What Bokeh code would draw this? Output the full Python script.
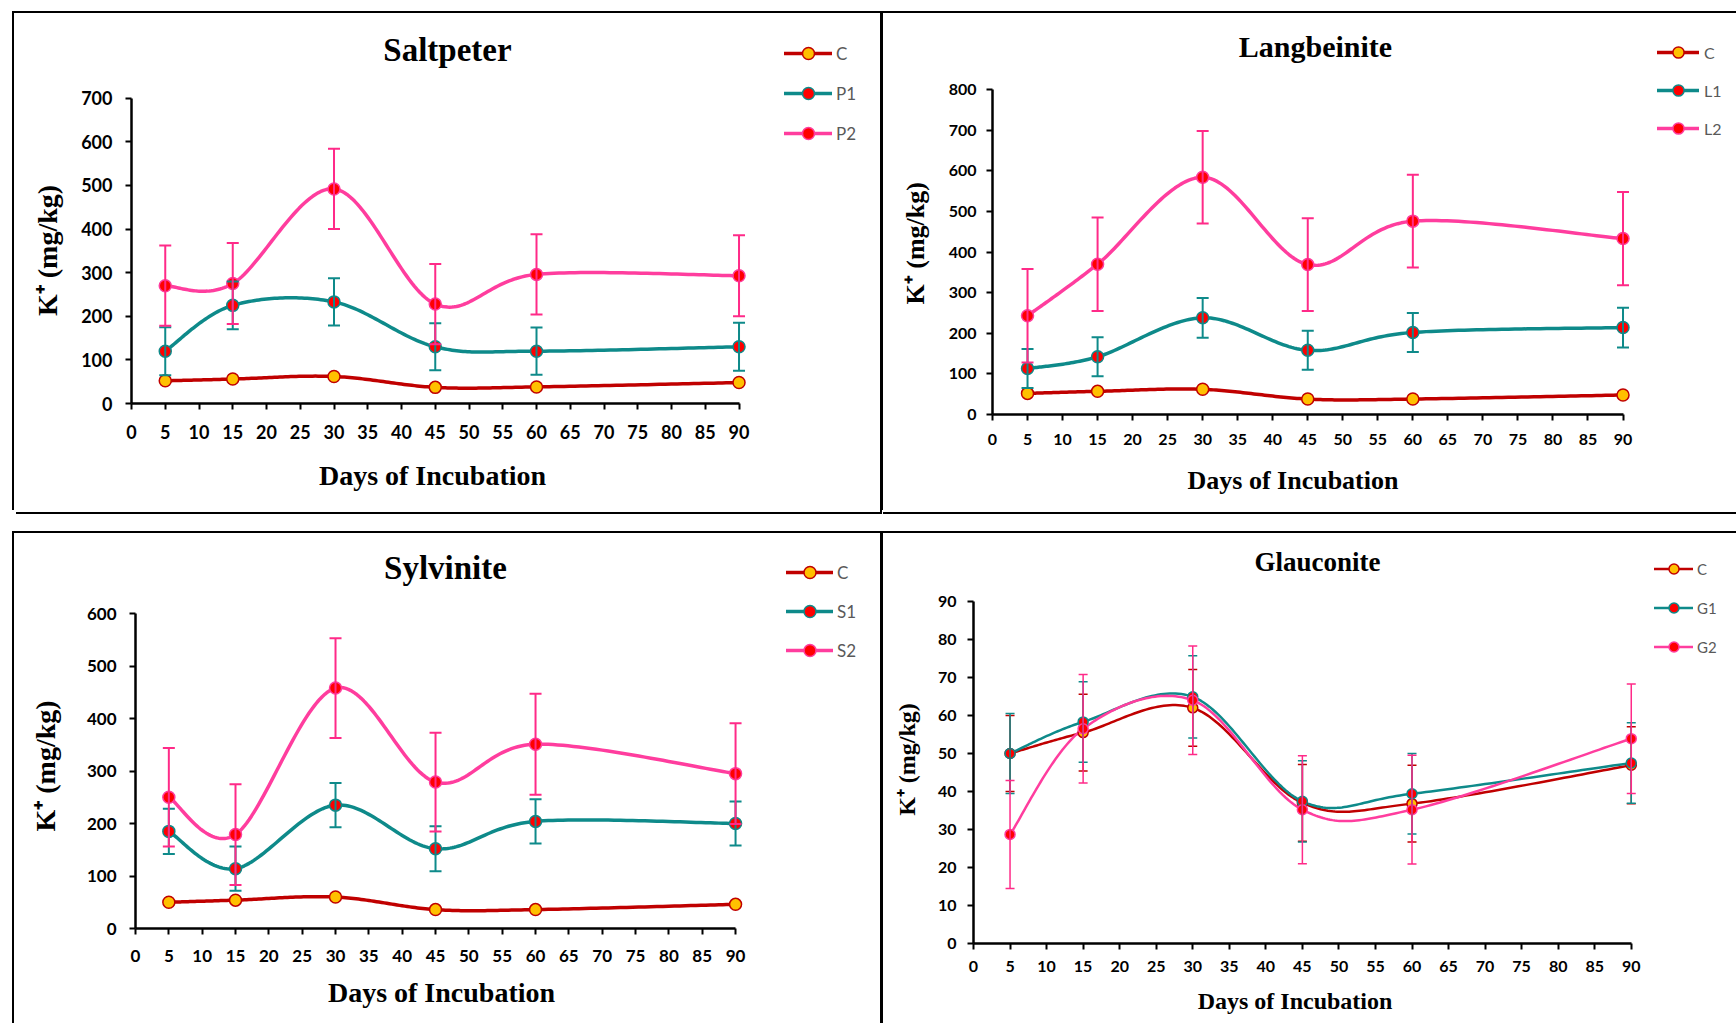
import numpy as np
from bokeh.plotting import figure
from bokeh.models import (ColumnDataSource, Whisker, TeeHead, Legend, LegendItem, FixedTicker,
                          Range1d, Label, Spacer)
from bokeh.layouts import column, row
from bokeh.embed import file_html
from bokeh.resources import INLINE

# ---------------- data ----------------
days = [5, 15, 30, 45, 60, 90]
x_ticks = [0, 5, 10, 15, 20, 25, 30, 35, 40, 45, 50, 55, 60, 65, 70, 75, 80, 85, 90]
x_label = "Days of Incubation"
y_label = "K⁺ (mg/kg)"

saltpeter_C = [52, 56, 62, 37, 38, 48]
saltpeter_P1 = [120, 225, 233, 130, 120, 130]
saltpeter_P1_err = [55, 55, 54, 54, 54, 55]
saltpeter_P2 = [270, 275, 492, 228, 296, 293]
saltpeter_P2_err = [92, 93, 92, 92, 92, 93]

langbeinite_C = [52, 57, 62, 38, 38, 48]
langbeinite_L1 = [113, 142, 238, 158, 202, 214]
langbeinite_L1_err = [48, 48, 49, 48, 48, 49]
langbeinite_L2 = [243, 370, 584, 369, 476, 433]
langbeinite_L2_err = [115, 115, 114, 114, 114, 115]

sylvinite_C = [50, 54, 60, 36, 36, 46]
sylvinite_S1 = [185, 114, 235, 152, 204, 200]
sylvinite_S1_err = [43, 42, 42, 43, 42, 42]
sylvinite_S2 = [250, 179, 458, 279, 351, 295]
sylvinite_S2_err = [94, 96, 95, 94, 96, 96]

glauconite_C = [50, 55.5, 62, 37, 36.8, 46.9]
glauconite_C_err = [10, 10.1, 10.1, 10.1, 10.1, 10.1]
glauconite_G1 = [50, 58.3, 64.9, 37.4, 39.4, 47.5]
glauconite_G1_err = [10.5, 10.6, 10.8, 10.7, 10.6, 10.6]
glauconite_G2 = [28.7, 56.5, 64, 35.2, 35.2, 53.9]
glauconite_G2_err = [14.2, 14.3, 14.3, 14.2, 14.3, 14.4]

# ---------------- styles ----------------
DARK_RED = "#C00000"
GOLD = "#FFC000"
TEAL = "#0E8A8A"
PINK = "#FF3D9E"
PINK_BAR = "#FF2A88"
RED = "#FF0000"
TICK_FONT = "Lato"
SERIF = "Liberation Serif"
NBSP = "\u00a0"


def smooth(xs, ys, n=40):
    P = np.column_stack([np.asarray(xs, float), np.asarray(ys, float)])
    m = len(P)
    out = []
    t = np.linspace(0, 1, n)[:, None]
    for i in range(m - 1):
        p0 = P[max(i - 1, 0)]
        p1 = P[i]
        p2 = P[i + 1]
        p3 = P[min(i + 2, m - 1)]
        c1 = p1 + (p2 - p0) / 6.0
        c2 = p2 - (p3 - p1) / 6.0
        seg = (1 - t) ** 3 * p1 + 3 * (1 - t) ** 2 * t * c1 + 3 * (1 - t) * t ** 2 * c2 + t ** 3 * p2
        out.append(seg if i == 0 else seg[1:])
    pts = np.vstack(out)
    return pts[:, 0], pts[:, 1]


def make_panel(cfg):
    p = figure(width=cfg["w"], height=cfg["h"], output_backend="svg", toolbar_location=None,
               x_range=Range1d(0, cfg["xend"]), y_range=Range1d(0, cfg["yend"]),
               min_border_left=cfg["mbl"], min_border_right=0,
               min_border_top=0, min_border_bottom=cfg["mbb"],
               styles={"box-shadow": cfg["shadow"]})
    p.outline_line_color = None
    p.xgrid.visible = False
    p.ygrid.visible = False
    p.background_fill_color = "white"
    p.border_fill_color = "white"

    for ax in (p.xaxis[0], p.yaxis[0]):
        ax.axis_line_width = 2.5
        ax.axis_line_color = "black"
        ax.major_tick_line_width = 2
        ax.major_tick_line_color = "black"
        ax.major_tick_out = 6
        ax.major_tick_in = 0
        ax.minor_tick_out = 0
        ax.minor_tick_in = 0
        ax.major_label_text_font = TICK_FONT
        ax.major_label_text_font_style = "bold"
        ax.major_label_text_font_size = "%dpx" % cfg["tick_size"]
        ax.major_label_text_color = "black"
        ax.axis_label_text_font = SERIF
        ax.axis_label_text_font_style = "bold"
        ax.axis_label_text_color = "black"
    xa = p.xaxis[0]
    ya = p.yaxis[0]
    xa.ticker = FixedTicker(ticks=x_ticks)
    xa.bounds = (0, 90)
    ya.ticker = FixedTicker(ticks=list(range(0, cfg["ymax"] + 1, cfg["ystep"])))
    ya.bounds = (0, cfg["ymax"])
    # no-break-space padding centres the visible labels on the drawn axes
    xa.axis_label = x_label + NBSP * cfg["x_pad"]
    ya.axis_label = y_label + NBSP * cfg["y_pad"]
    xa.axis_label_text_font_size = "%dpx" % cfg["xlab_size"]
    ya.axis_label_text_font_size = "%dpx" % cfg["ylab_size"]
    xa.major_label_standoff = cfg["xtick_so"]
    ya.major_label_standoff = cfg["ytick_so"]
    xa.axis_label_standoff = cfg["xlab_so"]
    ya.axis_label_standoff = cfg["ylab_so"]

    p.add_layout(Label(x=cfg["title_pos"][0], y=cfg["title_pos"][1], x_units="screen", y_units="screen",
                       text=cfg["title"], text_font=SERIF, text_font_style="bold",
                       text_font_size="%dpx" % cfg["title_size"], text_color="black",
                       text_align="center", text_baseline="middle"))

    lw = cfg["lw"]
    ms = cfg["ms"]
    items = []
    line_rs = []
    for s in cfg["series"]:
        sx, sy = smooth(days, s["y"])
        lr = p.line(sx, sy, line_color=s["color"], line_width=lw, line_cap="round", line_join="round")
        line_rs.append(lr)
    for s in cfg["series"]:
        if s.get("err") is not None:
            up = [a + b for a, b in zip(s["y"], s["err"])]
            lo = [a - b for a, b in zip(s["y"], s["err"])]
            src = ColumnDataSource(dict(x=days, upper=up, lower=lo))
            w = Whisker(base="x", upper="upper", lower="lower", source=src,
                        line_color=s["bar"], line_width=cfg["bw"],
                        upper_head=TeeHead(size=cfg["cap"], line_color=s["bar"], line_width=cfg["bw"]),
                        lower_head=TeeHead(size=cfg["cap"], line_color=s["bar"], line_width=cfg["bw"]))
            w.level = "glyph"
            p.add_layout(w)
    for s, lr in zip(cfg["series"], line_rs):
        mr = p.scatter(days, s["y"], size=ms, fill_color=s["mfill"], line_color=s["mline"], line_width=1.5)
        items.append(LegendItem(label=s["label"], renderers=[lr, mr]))

    lg = Legend(items=items, location=cfg["legend_loc"], glyph_width=cfg["gw"], glyph_height=cfg["gh"],
                spacing=cfg["gsp"], label_standoff=cfg.get("lso", 4), padding=0, margin=0,
                border_line_color=None, background_fill_alpha=0,
                label_text_font=TICK_FONT, label_text_font_size="%dpx" % cfg["leg_size"],
                label_text_color="#595959")
    p.add_layout(lg)
    return p


def series3(labels, c, a, a_err, b, b_err, c_err=None):
    return [
        dict(label=labels[0], y=c, err=c_err, color=DARK_RED, bar=DARK_RED, mfill=GOLD, mline=DARK_RED),
        dict(label=labels[1], y=a, err=a_err, color=TEAL, bar=TEAL, mfill=RED, mline=TEAL),
        dict(label=labels[2], y=b, err=b_err, color=PINK, bar=PINK_BAR, mfill=RED, mline=PINK),
    ]


p1 = make_panel(dict(
    w=866, h=499, ymax=700, ystep=100, xend=110.96, yend=894.2, mbl=117, mbb=109,
    shadow="-2px -2px 0 0 #000, 2px 2px 0 0 #000, 0 -2px 0 0 #000, 2px 0 0 0 #000",
    title="Saltpeter", title_size=33, title_pos=(316, 354),
    tick_size=18, xlab_size=28, ylab_size=28, x_pad=21, y_pad=12,
    xtick_so=15, ytick_so=13, xlab_so=18, ylab_so=15,
    lw=3.5, ms=12, bw=2, cap=12, legend_loc=(653, 255), gw=48, gh=30, gsp=10, leg_size=17,
    series=series3(["C", "P1", "P2"], saltpeter_C, saltpeter_P1, saltpeter_P1_err,
                   saltpeter_P2, saltpeter_P2_err)))

p2 = make_panel(dict(
    w=853, h=499, ymax=800, ystep=100, xend=106.2, yend=987.1, mbl=109, mbb=98,
    shadow="-3px -2px 0 0 #000, 0 2px 0 0 #000, 0 -2px 0 0 #000",
    title="Langbeinite", title_size=30, title_pos=(323, 368),
    tick_size=16, xlab_size=26, ylab_size=26, x_pad=22, y_pad=9,
    xtick_so=13, ytick_so=10, xlab_so=18, ylab_so=16,
    lw=3.5, ms=12, bw=2, cap=12, legend_loc=(665, 272), gw=42, gh=28, gsp=10, leg_size=16, lso=5,
    series=series3(["C", "L1", "L2"], langbeinite_C, langbeinite_L1, langbeinite_L1_err,
                   langbeinite_L2, langbeinite_L2_err)))

p3 = make_panel(dict(
    w=866, h=492, ymax=600, ystep=100, xend=111.74, yend=752.4, mbl=121, mbb=97,
    shadow="-2px -2px 0 0 #000, 0 -2px 0 0 #000",
    title="Sylvinite", title_size=33, title_pos=(310, 361),
    tick_size=17, xlab_size=28, ylab_size=28, x_pad=19, y_pad=10,
    xtick_so=15, ytick_so=13, xlab_so=12, ylab_so=23,
    lw=3.5, ms=12, bw=2, cap=12, legend_loc=(651, 263), gw=47, gh=30, gsp=9, leg_size=17,
    series=series3(["C", "S1", "S2"], sylvinite_C, sylvinite_S1, sylvinite_S1_err,
                   sylvinite_S2, sylvinite_S2_err)))

p4 = make_panel(dict(
    w=853, h=492, ymax=90, ystep=10, xend=104.4, yend=107.88, mbl=90, mbb=82,
    shadow="-3px -2px 0 0 #000, 0 -2px 0 0 #000",
    title="Glauconite", title_size=27, title_pos=(344, 382),
    tick_size=16, xlab_size=24, ylab_size=24, x_pad=20, y_pad=7,
    xtick_so=11, ytick_so=11, xlab_so=13, ylab_so=15,
    lw=2.5, ms=10, bw=1.5, cap=9, legend_loc=(681, 284), gw=39, gh=25, gsp=14, leg_size=15,
    series=series3(["C", "G1", "G2"], glauconite_C, glauconite_G1, glauconite_G1_err,
                   glauconite_G2, glauconite_G2_err, glauconite_C_err)))

top = row(Spacer(width=14, height=499), column(p1), Spacer(width=3, height=499), column(p2))
bottom = row(Spacer(width=14, height=492), column(p3), Spacer(width=3, height=492), column(p4))
layout = column(Spacer(width=1736, height=13), top, Spacer(width=1736, height=21), bottom)

open("out.html", "w").write(file_html(layout, INLINE))
